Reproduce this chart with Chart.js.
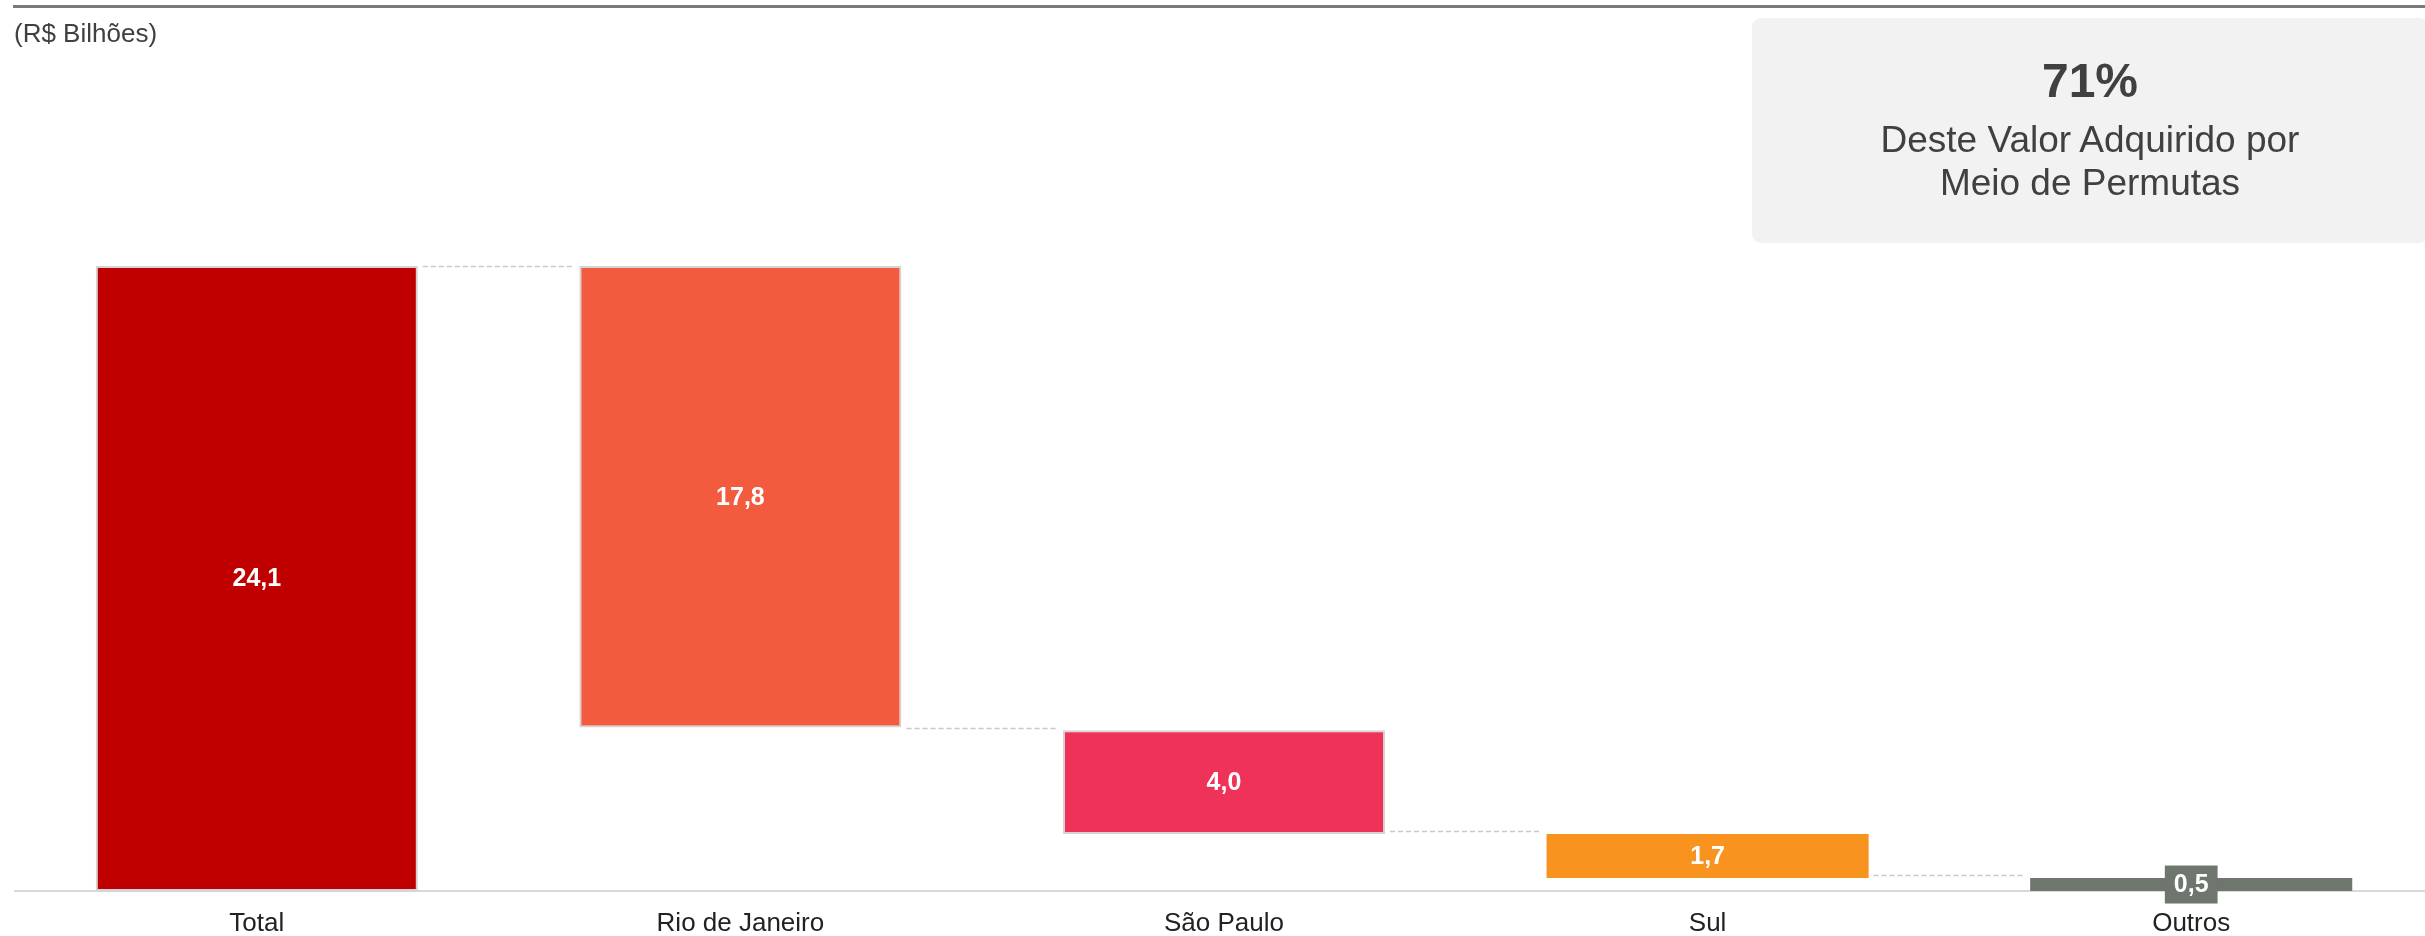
<!DOCTYPE html>
<html>
<head>
<meta charset="utf-8">
<script src="https://cdn.jsdelivr.net/npm/chart.js"></script>
<style>
  html, body { margin: 0; padding: 0; background: #fff; overflow: hidden; width: 2425px; height: 936px; }
  #wrap { position: relative; width: 2425px; height: 936px; font-family: "Liberation Sans", Arial, sans-serif; }
  #myChart { position: absolute; left: 0; top: 0; }
  .rule { position: absolute; left: 13px; right: 0; top: 5px; height: 3px; background: #7a7a7a; }
  .unit { position: absolute; left: 14px; top: 18px; font-size: 26px; line-height: 30px; color: #404040; white-space: nowrap; }
  .callout { position: absolute; left: 1752px; top: 18px; width: 676px; height: 225px; background: #f2f2f2; border-radius: 9px; color: #404040; text-align: center; }
  .callout div { position: absolute; left: 0; right: 0; white-space: nowrap; }
  .big { top: 38px; font-size: 48px; line-height: 50px; font-weight: bold; }
  .l1 { top: 102px; font-size: 37px; line-height: 40px; }
  .l2 { top: 145px; font-size: 37px; line-height: 40px; }
</style>
</head>
<body>
<div id="wrap">
  <canvas id="myChart" width="2433" height="936"></canvas>
  <div class="rule"></div>
  <div class="unit">(R$ Bilhões)</div>
  <div class="callout">
    <div class="big">71%</div>
    <div class="l1">Deste Valor Adquirido por</div>
    <div class="l2">Meio de Permutas</div>
  </div>
</div>
<script>
const categories = ["Total", "Rio de Janeiro", "São Paulo", "Sul", "Outros"];
const values = [24.1, 17.8, 4.0, 1.7, 0.5];
// where each bar starts (R$ bi)
const bases = [0, 6.3, 2.2, 0.5, 0];

const barColors = ["#c00000", "#f35b3f", "#ef3257", "#f7931e", "#6e766e"];
const borderWidths = [2, 2, 2, 0, 0];
const FONT = '"Liberation Sans", Arial, sans-serif';

const ranges = values.map((v, i) => [bases[i], bases[i] + v]);

// dashed connectors between bars, at the running total
const connectors = {
  id: "connectors",
  beforeDatasetsDraw(chart) {
    const ctx = chart.ctx;
    const bars = chart.getDatasetMeta(0).data;
    const y = chart.scales.y;
    let level = values[0];
    ctx.save();
    ctx.strokeStyle = "#c8c8c8";
    ctx.lineWidth = 1.5;
    ctx.setLineDash([5, 3]);
    for (let i = 1; i < bars.length; i++) {
      if (i > 1) level -= values[i - 1];
      const py = Math.round(y.getPixelForValue(level)) + 0.5;
      const x0 = bars[i - 1].x + bars[i - 1].width / 2 + 5;
      const x1 = bars[i].x - bars[i].width / 2 - 5;
      ctx.beginPath();
      ctx.moveTo(x0, py);
      ctx.lineTo(x1, py);
      ctx.stroke();
    }
    ctx.restore();
  }
};

// value labels inside bars, with a tag for thin bars
const valueLabels = {
  id: "valueLabels",
  afterDatasetsDraw(chart) {
    const ctx = chart.ctx;
    const bars = chart.getDatasetMeta(0).data;
    ctx.save();
    ctx.font = "bold 25px " + FONT;
    ctx.textAlign = "center";
    ctx.textBaseline = "middle";
    bars.forEach((bar, i) => {
      const txt = values[i].toFixed(1).replace(".", ",");
      const top = Math.min(bar.y, bar.base);
      const bottom = Math.max(bar.y, bar.base);
      const cy = (top + bottom) / 2;
      if (bottom - top < 36) {
        const w = ctx.measureText(txt).width + 18;
        ctx.fillStyle = barColors[i];
        ctx.fillRect(bar.x - w / 2, cy - 19, w, 38);
      }
      ctx.fillStyle = "#ffffff";
      ctx.fillText(txt, bar.x, cy + 1);
    });
    ctx.restore();
  }
};

const myChart = new Chart("myChart", {
  type: "bar",
  data: {
    labels: categories,
    datasets: [
      {
        data: ranges,
        backgroundColor: barColors,
        borderColor: "#d4d4d4",
        borderWidth: borderWidths,
        borderSkipped: false,
        barPercentage: 0.666,
        categoryPercentage: 1,
      },
    ],
  },
  options: {
    responsive: false,
    animation: false,
    devicePixelRatio: 1,
    layout: { padding: { left: 15, right: 0, top: 113, bottom: 0 } },
    plugins: {
      legend: { display: false },
      tooltip: { enabled: false },
    },
    scales: {
      x: {
        grid: { display: false, drawTicks: false },
        border: { display: true, color: "#d9d9d9", width: 2 },
        ticks: { color: "#222222", font: { family: FONT, size: 26 }, padding: 17 },
        afterFit: (s) => { s.height = 45; },
      },
      y: { display: false, min: 0, max: 30 },
    },
  },
  plugins: [connectors, valueLabels],
});
</script>
</body>
</html>
